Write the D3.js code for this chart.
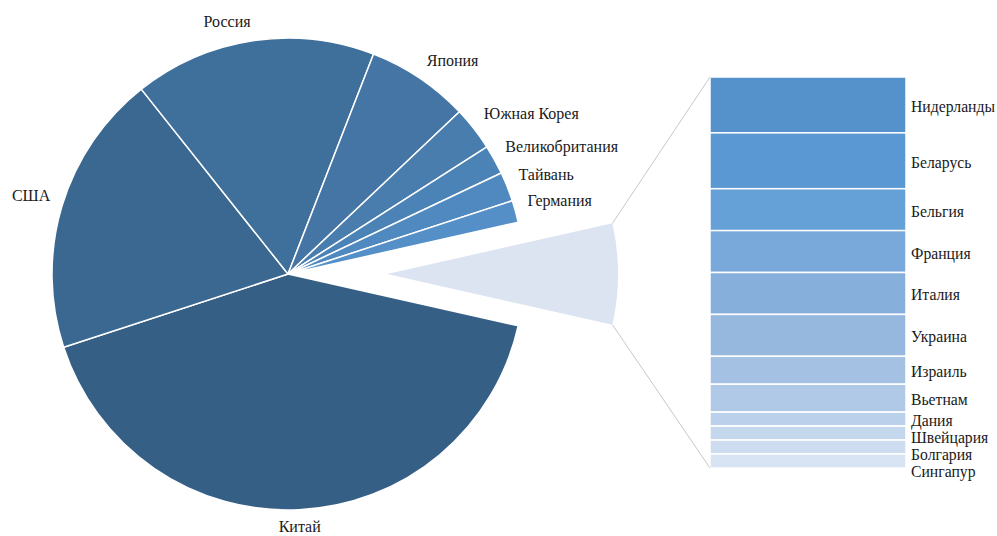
<!DOCTYPE html>
<html>
<head>
<meta charset="utf-8">
<script src="https://cdn.jsdelivr.net/npm/d3@7"></script>
<style>
  html, body { margin: 0; padding: 0; background: #ffffff; }
  svg { display: block; }
  text { font-family: "Liberation Serif", "Times New Roman", serif; fill: #1a1a1a; }
</style>
</head>
<body>
<svg id="chart" width="997" height="536"></svg>
<script>
// ---- data ----
const mainCategories = ["Китай", "США", "Россия", "Япония", "Южная Корея", "Великобритания", "Тайвань", "Германия"];
const mainValues     = [165, 77, 66, 28, 12, 8, 8, 6];
const mainColors     = ["#365f86", "#3b6891", "#3f6f9b", "#4475a5", "#497dae", "#4c83b7", "#4f89bf", "#548fc8"];

const otherCategories = ["Нидерланды", "Беларусь", "Бельгия", "Франция", "Италия", "Украина", "Израиль", "Вьетнам", "Дания", "Швейцария", "Болгария", "Сингапур"];
const otherValues     = [4, 4, 3, 3, 3, 3, 2, 2, 1, 1, 1, 1];
const otherColors     = ["#5592cc", "#5998d2", "#65a0d7", "#79a8da", "#87afdc", "#96b8df", "#a4c1e3", "#b0c9e7", "#bbd0ea", "#c5d7ed", "#cedcf0", "#d8e3f3"];
const otherSliceColor = "#dce4f2";

// ---- layout ----
const W = 997, H = 536;
const svg = d3.select("#chart");
const cx = 288, cy = 274, R = 236;
const explodeOffset = 99, explodeR = 231;
const pieFont = 16, barFont = 15.7;

const otherTotal = d3.sum(otherValues);
const pieData = mainValues.map((v, i) => ({ name: mainCategories[i], value: v, color: mainColors[i], other: false }));
pieData.unshift({ name: "other", value: otherTotal, color: otherSliceColor, other: true });

const total = d3.sum(pieData, d => d.value);
const otherAngle = otherTotal / total * 2 * Math.PI;
const start = Math.PI / 2 - otherAngle / 2;

const pie = d3.pie().sort(null).value(d => d.value).startAngle(start).endAngle(start + 2 * Math.PI);
const arcs = pie(pieData);

const arcMain = d3.arc().innerRadius(0).outerRadius(R);
const arcOther = d3.arc().innerRadius(0).outerRadius(explodeR);

const gPie = svg.append("g").attr("transform", `translate(${cx},${cy})`);
gPie.selectAll("path.slice")
  .data(arcs.filter(a => !a.data.other))
  .join("path")
  .attr("class", "slice")
  .attr("d", arcMain)
  .attr("fill", d => d.data.color)
  .attr("stroke", "#ffffff")
  .attr("stroke-width", 1.5)
  .attr("stroke-linejoin", "round");

const otherArc = arcs.find(a => a.data.other);
const gOther = svg.append("g").attr("transform", `translate(${cx + explodeOffset},${cy})`);
gOther.append("path")
  .attr("d", arcOther(otherArc))
  .attr("fill", otherArc.data.color);

// labels of main pie
const labelR = R + 12;
arcs.filter(a => !a.data.other).forEach(a => {
  const mid = (a.startAngle + a.endAngle) / 2;
  const s = Math.sin(mid), c = Math.cos(mid);
  const px = cx + labelR * s, py = cy - labelR * c;
  const t = svg.append("text").attr("font-size", pieFont).text(a.data.name)
    .attr("text-anchor", "middle").attr("dominant-baseline", "central");
  const bb = t.node().getBBox();
  const w = bb.width, h = 15;
  let lx = px, ly = py;
  if (Math.abs(s) > 0.1) lx += Math.sign(s) * w / 2;
  ly -= Math.sign(c) * h / 2;
  t.attr("x", lx).attr("y", ly);
  // keep inside the picture
  const b2 = t.node().getBBox();
  if (b2.y + b2.height > H - 1) t.attr("y", ly - (b2.y + b2.height - (H - 1)));
  if (b2.y < 1) t.attr("y", ly + (1 - b2.y));
});

// ---- secondary bar ----
const barX0 = 710, barX1 = 906, barTop = 77, barBottom = 468;
const yBar = d3.scaleLinear().domain([0, otherTotal]).range([barTop, barBottom]);
const cum = d3.cumsum(otherValues);
const segs = otherValues.map((v, i) => ({ name: otherCategories[i], y0: cum[i] - v, y1: cum[i], color: otherColors[i] }));

svg.append("g").selectAll("rect")
  .data(segs)
  .join("rect")
  .attr("x", barX0)
  .attr("width", barX1 - barX0)
  .attr("y", d => yBar(d.y0))
  .attr("height", d => yBar(d.y1) - yBar(d.y0))
  .attr("fill", d => d.color)
  .attr("stroke", "#ffffff")
  .attr("stroke-width", 1.5);

// bar labels with simple overlap avoidance
let prevY = -Infinity;
const minGap = 17;
segs.forEach(d => {
  let y = (yBar(d.y0) + yBar(d.y1)) / 2 + 1.5;
  y = Math.max(y, prevY + minGap);
  prevY = y;
  svg.append("text")
    .attr("x", barX1 + 5)
    .attr("y", y)
    .attr("font-size", barFont)
    .attr("dominant-baseline", "central")
    .text(d.name);
});

// connector lines
const oa0 = otherArc.startAngle, oa1 = otherArc.endAngle;
const ox = cx + explodeOffset;
const p0 = [ox + explodeR * Math.sin(oa0), cy - explodeR * Math.cos(oa0)];
const p1 = [ox + explodeR * Math.sin(oa1), cy - explodeR * Math.cos(oa1)];
svg.append("line").attr("x1", p0[0]).attr("y1", p0[1]).attr("x2", barX0).attr("y2", barTop)
  .attr("stroke", "#c8c8c8").attr("stroke-width", 1);
svg.append("line").attr("x1", p1[0]).attr("y1", p1[1]).attr("x2", barX0).attr("y2", barBottom)
  .attr("stroke", "#c8c8c8").attr("stroke-width", 1);
</script>
</body>
</html>
